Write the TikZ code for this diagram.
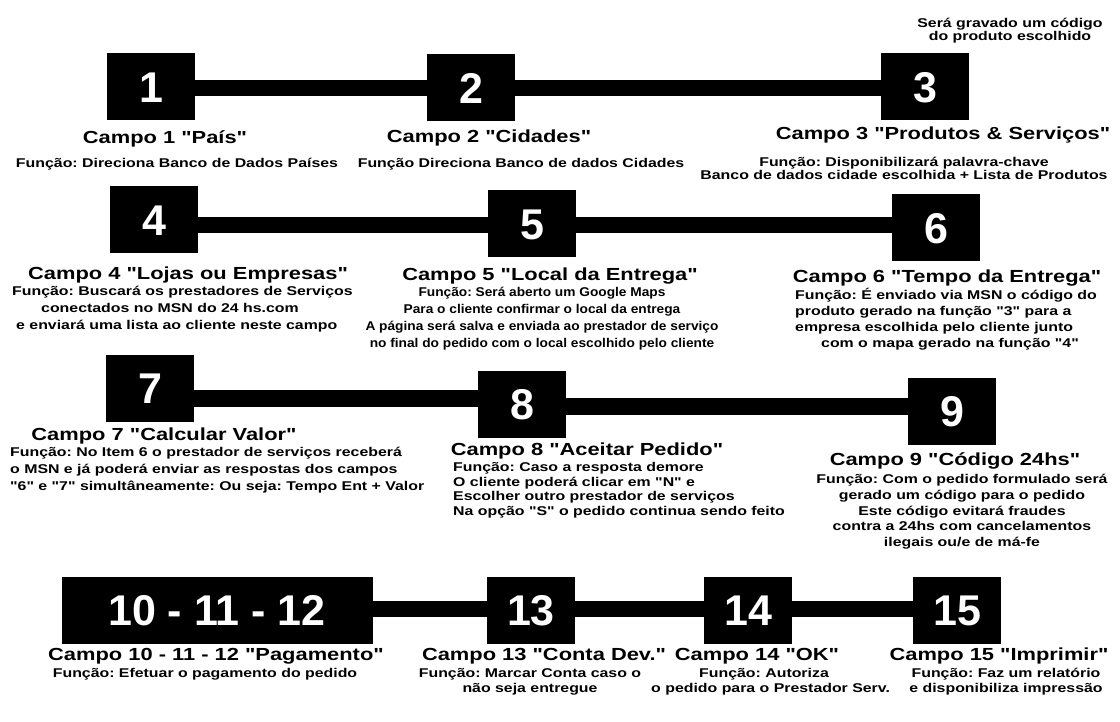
\documentclass[tikz,border=0pt]{standalone}
\usepackage{fontspec}
\newfontfamily\widesans{Liberation Sans}[FakeStretch=1.25]
\newfontfamily\narrowsans{Liberation Sans}[FakeStretch=1.08]
\newfontfamily\numsans{Liberation Sans}
\usepackage{tikz}
\frenchspacing

\begin{document}
\begin{tikzpicture}[x=1pt, y=-1pt,
  numbox/.style={fill=black, text=white, minimum width=88pt, minimum height=67pt, inner sep=0pt, text height=31pt, text depth=0pt, font=\numsans\bfseries\fontsize{43}{43}\selectfont},
  campo/.style={anchor=north, inner sep=0pt, font=\widesans\bfseries\fontsize{17.5}{21}\selectfont},
  info/.style={anchor=north, inner sep=0pt, align=center, font=\widesans\bfseries\fontsize{12.7}{#1}\selectfont},
  info/.default=15,
  bar/.style={line width=16.5pt}]

\useasboundingbox[fill=white] (0,0) rectangle (1120,722);

% Row 1
\node[numbox] (b1) at (151,87) {1};
\node[numbox] (b2) at (471,88) {2};
\node[numbox] (b3) at (925,87) {3};
\coordinate (r1) at (0,88);

\node[info=12.5] (n3) at (1010,18) {Será gravado um código\\do produto escolhido};
\node[campo] (t1) at (165,130) {Campo 1 "País"};
\node[campo] (t2) at (489,130) {Campo 2 "Cidades"};
\node[campo] (t3) at (943,127) {Campo 3 "Produtos \& Serviços"};
\node[info] (s1) at (177,158) {Função: Direciona Banco de Dados Países};
\node[info] (s2) at (521,158) {Função Direciona Banco de dados Cidades};
\node[info=12.5] (s3) at (904,157) {Função: Disponibilizará palavra-chave\\Banco de dados cidade escolhida + Lista de Produtos};

% Row 2
\node[numbox] (b4) at (154,220) {4};
\node[numbox] (b5) at (532,224) {5};
\node[numbox] (b6) at (936,228) {6};
\coordinate (r2) at (0,225);

\node[campo] (t4) at (188,267) {Campo 4 "Lojas ou Empresas"};
\node[campo] (t5) at (550,268) {Campo 5 "Local da Entrega"};
\node[campo] (t6) at (947,270) {Campo 6 "Tempo da Entrega"};
\node[info=17, anchor=north west, align=left] (s4) at (12,286) {Função: Buscará os prestadores de Serviços\\\hspace*{29pt}conectados no MSN do 24 hs.com\\\hspace*{4pt}e enviará uma lista ao cliente neste campo};
\node[info=17, font=\narrowsans\bfseries\fontsize{12.7}{17}\selectfont] (s5) at (542,287) {Função: Será aberto um Google Maps\\Para o cliente confirmar o local da entrega\\A página será salva e enviada ao prestador de serviço\\no final do pedido com o local escolhido pelo cliente};
\node[info=16, anchor=north west, align=left] (s6) at (795,288) {Função: É enviado via MSN o código do\\produto gerado na função "3" para a\\empresa escolhida pelo cliente junto\\\hspace*{26pt}com o mapa gerado na função "4"};

% Row 3
\node[numbox] (b7) at (150,388) {7};
\node[numbox] (b8) at (522,404) {8};
\node[numbox] (b9) at (952,411) {9};
\coordinate (r3a) at (0,398.5);
\coordinate (r3b) at (0,406.5);

\node[campo] (t7) at (164,428) {Campo 7 "Calcular Valor"};
\node[campo] (t8) at (587,443) {Campo 8 "Aceitar Pedido"};
\node[campo] (t9) at (955,452) {Campo 9 "Código 24hs"};
\node[info=17, anchor=north west, align=left] (s7) at (10,447) {Função: No Item 6 o prestador de serviços receberá\\o MSN e já poderá enviar as respostas dos campos\\"6" e "7" simultâneamente: Ou seja: Tempo Ent + Valor};
\node[info=14.7, anchor=north west, align=left] (s8) at (453,462) {Função: Caso a resposta demore\\O cliente poderá clicar em "N" e\\Escolher outro prestador de serviços\\Na opção "S" o pedido continua sendo feito};
\node[info=15.8] (s9) at (962,474) {Função: Com o pedido formulado será\\gerado um código para o pedido\\Este código evitará fraudes\\contra a 24hs com cancelamentos\\ilegais ou/e de má-fe};

% Row 4
\node[numbox, minimum width=311pt] (b10) at (217,610) {10 - 11 - 12};
\node[numbox] (b13) at (531,610) {13};
\node[numbox] (b14) at (748,610) {14};
\node[numbox] (b15) at (957,610) {15};
\coordinate (r4) at (0,609);

\node[campo] (t10) at (216,648) {Campo 10 - 11 - 12 "Pagamento"};
\node[campo] (t13) at (544,648) {Campo 13 "Conta Dev."};
\node[campo] (t14) at (757,648) {Campo 14 "OK"};
\node[campo] (t15) at (999,648) {Campo 15 "Imprimir"};
\node[info] (s10) at (205,668) {Função: Efetuar o pagamento do pedido};
\node[info] (s13) at (530,668) {Função: Marcar Conta caso o\\não seja entregue};
\node[info, anchor=north west, align=left] (s14) at (651,668) {\hspace*{48pt}Função: Autoriza\\o pedido para o Prestador Serv.};
\node[info] (s15) at (1006,668) {Função: Faz um relatório\\e disponibiliza impressão};

% bars
\draw[bar] (b1.east |- r1) -- (b2.west |- r1);
\draw[bar] (b2.east |- r1) -- (b3.west |- r1);
\draw[bar] (b4.east |- r2) -- (b5.west |- r2);
\draw[bar] (b5.east |- r2) -- (b6.west |- r2);
\draw[bar] (b7.east |- r3a) -- (b8.west |- r3a);
\draw[bar] (b8.east |- r3b) -- (b9.west |- r3b);
\draw[bar] (b10.east |- r4) -- (b13.west |- r4);
\draw[bar] (b13.east |- r4) -- (b14.west |- r4);
\draw[bar] (b14.east |- r4) -- (b15.west |- r4);

\end{tikzpicture}
\end{document}
